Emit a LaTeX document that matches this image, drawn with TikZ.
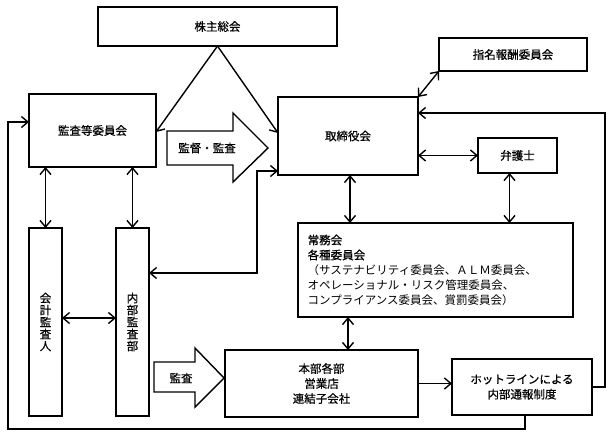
\documentclass[tikz,border=0pt]{standalone}
\usepackage{fontspec}
\newfontfamily\jp{Noto Sans CJK JP}[FakeBold=0.6]
\newfontfamily\jpl{Noto Sans CJK JP}
\usetikzlibrary{arrows.meta}
\begin{document}
\begin{tikzpicture}[x=1pt,y=-1pt,
  font=\jp\fontsize{11.5}{15}\selectfont,
  line width=1.4pt,
  box/.style={draw, rectangle, inner sep=0pt, outer sep=0pt, align=center},
  tip/.tip={Straight Barb[length=6.5pt,width=11pt]},
  arr/.style={-tip},
  dbl/.style={tip-tip},
  vtext/.style={align=center, inner sep=0pt, font=\jp\fontsize{11.5}{12}\selectfont},
  blockarrow/.style={draw, line join=miter}]
\useasboundingbox (0,0) rectangle (612,437);

% boxes
\node[box, minimum width=239pt, minimum height=39pt] (kabu) at (217.5,26.5) {株主総会};
\node[box, minimum width=127pt, minimum height=73pt] (kansa) at (92.5,130.5) {監査等委員会};
\node[box, minimum width=140pt, minimum height=78pt] (tori) at (348,136) {取締役会};
\node[box, minimum width=148pt, minimum height=33pt] (shimei) at (513,54.5) {指名報酬委員会};
\node[box, minimum width=79pt, minimum height=35pt] (bengo) at (517.5,155.5) {弁護士};
\node[box, minimum width=33pt, minimum height=188pt] (kaikei) at (45.5,322) {};
\node[vtext] (kaikeitxt) at (45.5,322) {会\\計\\監\\査\\人};
\node[box, minimum width=33pt, minimum height=188pt] (naibu) at (132.5,322) {};
\node[vtext] (naibutxt) at (132.5,322) {内\\部\\監\\査\\部};
\node[box, minimum width=275pt, minimum height=94pt] (jomu) at (435.5,270) {};
\node[anchor=north west, align=left, inner sep=0pt] (jomutxt) at (307,234)
  {常務会\\各種委員会\\{\jpl （サステナビリティ委員会、ＡＬＭ委員会、}\\{\jpl オペレーショナル・リスク管理委員会、}\\{\jpl コンプライアンス委員会、賞罰委員会）}};
\node[box, minimum width=193pt, minimum height=67pt] (honbu) at (321.5,383.5) {本部各部\\営業店\\連結子会社};
\node[box, minimum width=140pt, minimum height=56pt] (hotline) at (522,387) {ホットラインによる\\内部通報制度};

% block arrows
\draw[blockarrow] (167,131) -- (233,131) -- (233,113) -- (268,148) -- (233,182) -- (233,165) -- (167,165) -- cycle;
\node (kantoku) at (207,148) {監督・監査};
\draw[blockarrow] (154,362) -- (195,362) -- (195,348) -- (224,378) -- (195,407) -- (195,392) -- (154,392) -- cycle;
\node (kansaya) at (181,378) {監査};

% connectors
\draw[arr] (kabu.south) -- ([yshift=-1.5pt]kansa.east);
\draw[arr] (kabu.south) -- ([yshift=3pt]tori.west);
\draw[dbl] ([yshift=-35pt]tori.west) -- ++(-21,0) |- ([yshift=49pt]naibu.east);
\draw[dbl] (tori.north east) -- (shimei.south west);
\draw[dbl] (tori.east |- bengo.west) -- (bengo.west);
\draw[dbl] ([xshift=2pt]tori.south) -- ([xshift=2pt]tori.south |- jomu.north);
\draw[dbl] ([xshift=-8pt]bengo.south) -- ([xshift=-8pt]bengo.south |- jomu.north);
\draw[dbl] (jomu.south -| tori.south) -- (honbu.north -| tori.south);
\draw[arr] (honbu.east) -- (hotline.west |- honbu.east);
\draw[dbl] (kaikei.north) -- (kaikei.north |- kansa.south);
\draw[dbl] (naibu.north) -- (naibu.north |- kansa.south);
\draw[dbl] ([yshift=4pt]kaikei.east) -- ([yshift=4pt]naibu.west);
\coordinate (lb) at (8,429);
\coordinate (rc) at (605,113);
\draw[arr] ([xshift=3pt]hotline.south) |- (lb) |- ([yshift=8.5pt]kansa.west);
\draw[arr] (hotline.east) -| (rc) -- ([yshift=23pt]tori.east);
\end{tikzpicture}
\end{document}
